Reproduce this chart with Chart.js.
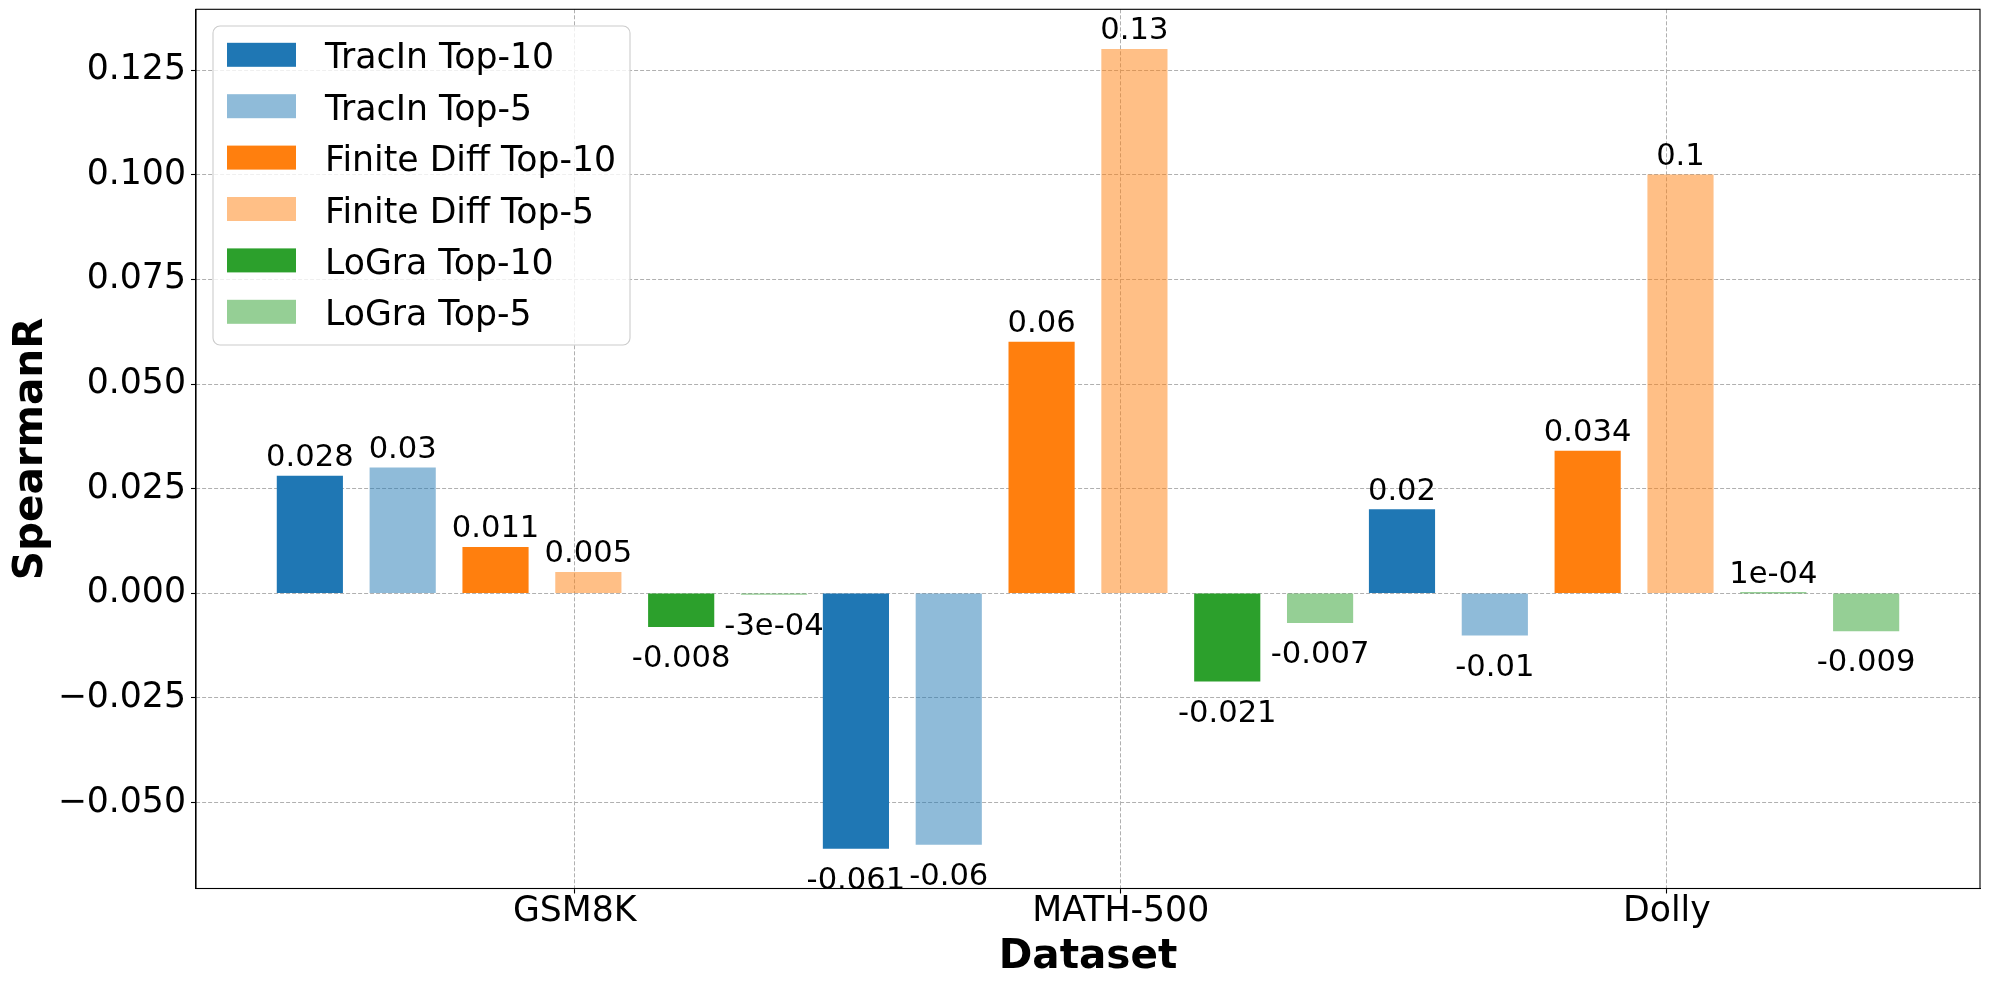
<!DOCTYPE html>
<html><head><meta charset="utf-8">
<script src="https://cdn.jsdelivr.net/npm/chart.js@4"></script>
<style>html,body{margin:0;padding:0;background:#fff;} #wrap{width:1990px;height:989px;}</style>
</head><body><div id="wrap"><canvas id="c" width="1990" height="989"></canvas></div>
<script>
// ---- data ----
const categories = ['GSM8K', 'MATH-500', 'Dolly'];
const seriesNames = ['TracIn Top-10', 'TracIn Top-5', 'Finite Diff Top-10', 'Finite Diff Top-5', 'LoGra Top-10', 'LoGra Top-5'];
const tracinTop10 = [0.028, -0.061, 0.02];
const tracinTop5 = [0.03, -0.06, -0.01];
const finiteDiffTop10 = [0.011, 0.06, 0.034];
const finiteDiffTop5 = [0.005, 0.13, 0.1];
const lograTop10 = [-0.008, -0.021, 0.0001];
const lograTop5 = [-0.0003, -0.007, -0.009];
const yTickValues = [-0.05, -0.025, 0, 0.025, 0.05, 0.075, 0.1, 0.125];

// ---- style / layout ----
const seriesValues = [tracinTop10, tracinTop5, finiteDiffTop10, finiteDiffTop5, lograTop10, lograTop5];
const seriesColors = ['#1f77b4', 'rgba(31,119,180,0.5)', '#ff7f0e', 'rgba(255,127,14,0.5)', '#2ca02c', 'rgba(44,160,44,0.5)'];
const BAR_W = 0.12, BAR_STEP = 0.17, BAR_START = -0.485;
const FONT = '"DejaVu Sans", sans-serif';

function fmtLabel(v) {
  if (v !== 0 && Math.abs(v) < 0.001) {
    return v.toExponential(0).replace(/e([+-])(\d)$/, 'e$10$2');
  }
  return String(parseFloat(v.toFixed(3)));
}

const allVals = seriesValues.flat();
const yMinD = Math.min(...allVals), yMaxD = Math.max(...allVals);
const yM = 0.05 * (yMaxD - yMinD);
const xMinD = BAR_START - BAR_W / 2;
const xMaxD = (categories.length - 1) + BAR_START + (seriesNames.length - 1) * BAR_STEP + BAR_W / 2;
const xM = 0.05 * (xMaxD - xMinD);

const datasets = seriesNames.map((name, j) => ({
  label: name,
  data: seriesValues[j].map((v, i) => ({ x: i + BAR_START + j * BAR_STEP, y: v })),
  backgroundColor: seriesColors[j],
  borderWidth: 0,
  barThickness: 65.5,
  grouped: false
}));

const barLabels = {
  id: 'barLabels',
  afterDatasetsDraw(chart) {
    const ctx = chart.ctx;
    ctx.save();
    ctx.font = '30.6px ' + FONT;
    ctx.fillStyle = '#000';
    ctx.textAlign = 'center';
    ctx.textBaseline = 'alphabetic';
    chart.data.datasets.forEach((ds, i) => {
      const meta = chart.getDatasetMeta(i);
      meta.data.forEach((bar, k) => {
        const v = ds.data[k].y;
        const t = fmtLabel(v);
        if (v >= 0) ctx.fillText(t, bar.x, bar.y - 10);
        else ctx.fillText(t, bar.x, bar.y + 40.5);
      });
    });
    ctx.restore();
  }
};

const frameLegend = {
  id: 'frameLegend',
  afterDraw(chart) {
    const ctx = chart.ctx, a = chart.chartArea;
    ctx.save();
    ctx.strokeStyle = '#000';
    ctx.lineWidth = 1.1;
    ctx.strokeRect(a.left, a.top, a.right - a.left, a.bottom - a.top);
    // legend
    const fs = 34.7;
    ctx.font = fs + 'px ' + FONT;
    const x0 = a.left + 17, y0 = a.top + 16.7;
    const w = 417, h = 319, rowH = 51.4;
    ctx.beginPath();
    ctx.roundRect(x0, y0, w, h, 7);
    ctx.fillStyle = 'rgba(255,255,255,0.8)';
    ctx.fill();
    ctx.strokeStyle = '#cccccc';
    ctx.lineWidth = 1.1;
    ctx.stroke();
    chart.data.datasets.forEach((d, r) => {
      const cy = y0 + 28.8 + r * rowH;
      ctx.fillStyle = d.backgroundColor;
      ctx.fillRect(x0 + 14, cy - 12, 69, 24);
      ctx.fillStyle = '#000';
      ctx.textAlign = 'left';
      ctx.textBaseline = 'alphabetic';
      ctx.fillText(d.label, x0 + 112, cy + 13.5);
    });
    ctx.restore();
  }
};

const tickFont = { family: FONT, size: 34.7, lineHeight: 1 };
const titleFont = { family: FONT, size: 40.5, weight: 'bold', lineHeight: 1 };

new Chart(document.getElementById('c'), {
  type: 'bar',
  data: { datasets },
  options: {
    responsive: false,
    animation: false,
    devicePixelRatio: 1,
    layout: { padding: { left: 0, top: 9.3, right: 10, bottom: 0 } },
    plugins: { legend: { display: false }, tooltip: { enabled: false } },
    scales: {
      x: {
        type: 'linear',
        offset: false,
        min: xMinD - xM,
        max: xMaxD + xM,
        afterBuildTicks(scale) { scale.ticks = categories.map((c, i) => ({ value: i })); },
        afterFit(scale) { scale.height = 100.5; scale.paddingLeft = 0; scale.paddingRight = 0; scale.paddingTop = 0; scale.paddingBottom = 0; },
        ticks: {
          autoSkip: false, maxRotation: 0,
          callback: (v) => categories[Math.round(v)],
          font: tickFont,
          color: '#000', padding: 1
        },
        grid: { offset: false, color: '#b0b0b0', lineWidth: 1, tickColor: '#000', tickLength: 5, tickWidth: 1.1 },
        border: { display: true, color: '#000', width: 1.1, dash: [4, 2] },
        title: { display: true, text: 'Dataset', color: '#000', font: titleFont, padding: { top: 0, bottom: 11 } }
      },
      y: {
        type: 'linear',
        min: yMinD - yM,
        max: yMaxD + yM,
        afterBuildTicks(scale) { scale.ticks = yTickValues.map(v => ({ value: v })); },
        afterFit(scale) { scale.width = 196; scale.paddingTop = 0; scale.paddingBottom = 0; scale.paddingLeft = 0; scale.paddingRight = 0; },
        ticks: {
          callback: (v) => (v < 0 ? '\u2212' : '') + Math.abs(v).toFixed(3),
          font: tickFont,
          color: '#000', padding: 5
        },
        grid: { color: '#b0b0b0', lineWidth: 1, tickColor: '#000', tickLength: 5, tickWidth: 1.1 },
        border: { display: true, color: '#000', width: 1.1, dash: [4, 2] },
        title: { display: true, text: 'SpearmanR', color: '#000', font: titleFont, padding: { top: 11, bottom: 0 } }
      }
    }
  },
  plugins: [barLabels, frameLegend]
});
</script>
</body></html>
